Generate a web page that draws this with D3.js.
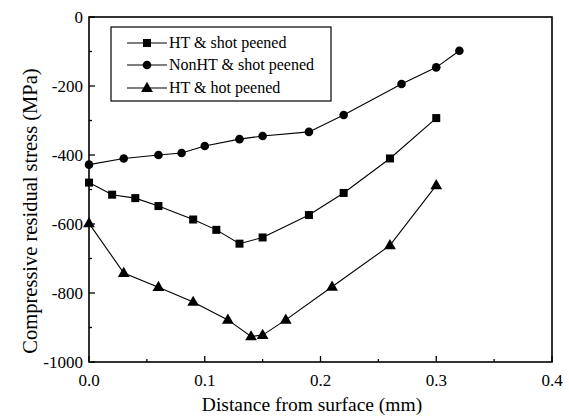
<!DOCTYPE html>
<html>
<head>
<meta charset="utf-8">
<script src="https://cdn.jsdelivr.net/npm/d3@7"></script>
<style>
body { margin: 0; background: #fff; }
</style>
</head>
<body>
<script>
// data
const seriesNames = ["HT & shot peened", "NonHT & shot peened", "HT & hot peened"];
const htShotX = [0.0, 0.02, 0.04, 0.06, 0.09, 0.11, 0.13, 0.15, 0.19, 0.22, 0.26, 0.30];
const htShotY = [-480, -515, -525, -548, -587, -617, -657, -639, -574, -510, -410, -293];
const nonHtShotX = [0.0, 0.03, 0.06, 0.08, 0.10, 0.13, 0.15, 0.19, 0.22, 0.27, 0.30, 0.32];
const nonHtShotY = [-428, -410, -400, -394, -374, -354, -345, -333, -284, -194, -146, -98];
const htHotX = [0.0, 0.03, 0.06, 0.09, 0.12, 0.14, 0.15, 0.17, 0.21, 0.26, 0.30];
const htHotY = [-598, -742, -783, -826, -878, -926, -922, -878, -782, -662, -488];
const xTicks = [0.0, 0.1, 0.2, 0.3, 0.4];
const yTicks = [0, -200, -400, -600, -800, -1000];

const W = 569, H = 420;
const mLeft = 89, mRight = 552, mTop = 17, mBottom = 362;

var svg = d3.select("body").append("svg")
  .attr("width", W)
  .attr("height", H)
  .attr("font-family", "'Liberation Serif', 'DejaVu Serif', serif");

const x = d3.scaleLinear().domain([0, 0.4]).range([mLeft, mRight]);
const y = d3.scaleLinear().domain([-1000, 0]).range([mBottom, mTop]);

// ticks (inward, major + minor), bottom and left only
const g = svg.append("g").attr("stroke", "#000").attr("stroke-width", 1.3);
d3.range(0, 0.4001, 0.05).forEach((v, i) => {
  const len = i % 2 === 0 ? 6 : 3;
  g.append("line").attr("x1", x(v)).attr("x2", x(v)).attr("y1", mBottom).attr("y2", mBottom - len);
});
d3.range(-1000, 1, 100).forEach((v, i) => {
  const len = i % 2 === 0 ? 6 : 3;
  g.append("line").attr("x1", mLeft).attr("x2", mLeft + len).attr("y1", y(v)).attr("y2", y(v));
});

// frame
svg.append("rect")
  .attr("x", mLeft).attr("y", mTop)
  .attr("width", mRight - mLeft).attr("height", mBottom - mTop)
  .attr("fill", "none").attr("stroke", "#000").attr("stroke-width", 1.6);

// tick labels
svg.selectAll(".xl").data(xTicks).enter().append("text")
  .attr("x", d => x(d)).attr("y", mBottom + 24)
  .attr("text-anchor", "middle").attr("font-size", 17)
  .text(d => d.toFixed(1));
svg.selectAll(".yl").data(yTicks).enter().append("text")
  .attr("x", mLeft - 6).attr("y", d => y(d) + 6)
  .attr("text-anchor", "end").attr("font-size", 17)
  .text(d => d);

// axis titles
svg.append("text").attr("x", 312).attr("y", 411)
  .attr("text-anchor", "middle").attr("font-size", 19.5)
  .text("Distance from surface (mm)");
svg.append("text")
  .attr("transform", "translate(37,211) rotate(-90)")
  .attr("text-anchor", "middle").attr("font-size", 20.5)
  .text("Compressive residual stress (MPa)");

// markers
function marker(sel, type, cx, cy) {
  if (type === 0) {
    sel.append("rect").attr("x", cx - 4).attr("y", cy - 4).attr("width", 8).attr("height", 8).attr("fill", "#000");
  } else if (type === 1) {
    sel.append("circle").attr("cx", cx).attr("cy", cy).attr("r", 4.3).attr("fill", "#000");
  } else {
    sel.append("path").attr("d", d3.symbol(d3.symbolTriangle, 60)()).attr("transform", "translate(" + cx + "," + (cy + 0.5) + ")").attr("fill", "#000");
  }
}

const allX = [htShotX, nonHtShotX, htHotX];
const allY = [htShotY, nonHtShotY, htHotY];
const line = d3.line().x(d => x(d[0])).y(d => y(d[1]));

allX.forEach((xs, s) => {
  const pts = xs.map((v, i) => [v, allY[s][i]]);
  svg.append("path").attr("d", line(pts)).attr("fill", "none").attr("stroke", "#000").attr("stroke-width", 1.1);
  const mg = svg.append("g");
  pts.forEach(p => marker(mg, s, x(p[0]), y(p[1])));
});

// legend
svg.append("rect").attr("x", 111).attr("y", 27).attr("width", 220).attr("height", 74)
  .attr("fill", "#fff").attr("stroke", "#000").attr("stroke-width", 1.2);
const legY = [43, 65, 88];
seriesNames.forEach((name, s) => {
  svg.append("line").attr("x1", 127).attr("x2", 167).attr("y1", legY[s]).attr("y2", legY[s])
    .attr("stroke", "#000").attr("stroke-width", 1.1);
  marker(svg, s, 147, legY[s]);
  svg.append("text").attr("x", 169).attr("y", legY[s] + 5).attr("font-size", 16).text(name);
});
</script>
</body>
</html>
